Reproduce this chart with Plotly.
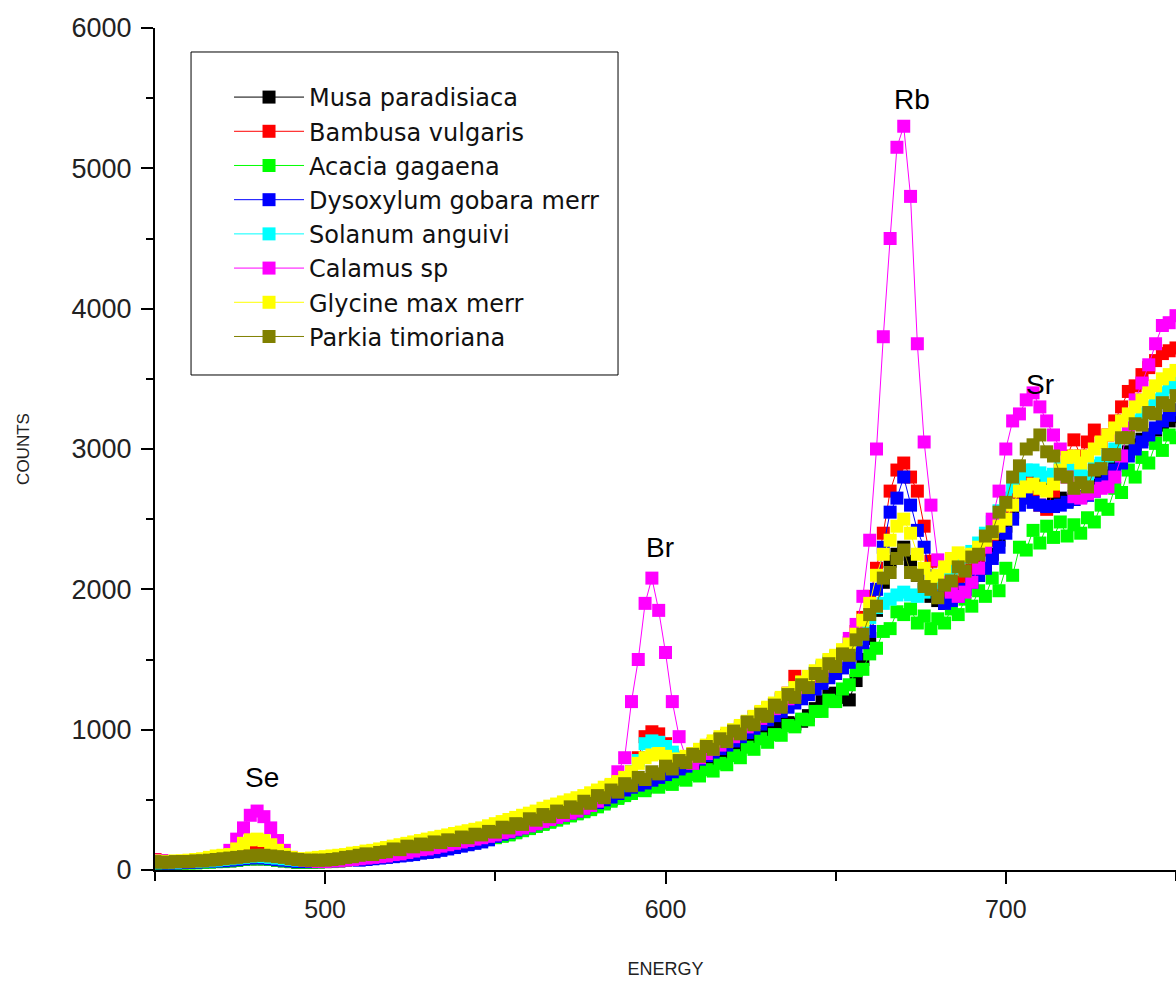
import plotly.graph_objects as go

# Energy channels (x values)
ENERGY = list(range(450, 751, 2))

MUSA = [55, 50, 50, 50, 50, 55, 55, 55, 60, 60,
        65, 65, 70, 75, 80, 80, 80, 75, 70, 65,
        60, 55, 55, 55, 60, 60, 65, 65, 70, 75,
        75, 80, 85, 90, 95, 100, 110, 115, 125, 130,
        140, 145, 155, 165, 175, 185, 195, 205, 215, 225,
        235, 245, 255, 270, 285, 300, 315, 330, 345, 360,
        375, 390, 405, 420, 440, 460, 480, 500, 520, 540,
        555, 570, 585, 600, 615, 630, 645, 660, 680, 700,
        720, 745, 770, 795, 820, 850, 880, 910, 940, 970,
        1000, 1020, 1040, 1050, 1040, 1060, 1100, 1150, 1200, 1250,
        1260, 1230, 1212, 1350, 1500, 1650, 1850, 2050, 2200, 2250,
        2300, 2200, 2100, 2000, 1950, 1920, 1900, 1930, 1970, 2000,
        2050, 2100, 2150, 2250, 2350, 2450, 2550, 2650, 2750, 2800,
        2780, 2720, 2680, 2650, 2630, 2640, 2660, 2700, 2740, 2780,
        2830, 2880, 2930, 2980, 3030, 3070, 3100, 3135, 3170, 3200,
        3230]

BAMBUSA = [75, 65, 60, 60, 60, 65, 65, 70, 75, 80,
           85, 90, 100, 115, 125, 130, 125, 115, 100, 90,
           80, 75, 75, 75, 80, 85, 90, 95, 100, 105,
           110, 115, 120, 130, 140, 150, 160, 170, 180, 190,
           200, 210, 220, 230, 240, 250, 260, 270, 280, 290,
           300, 315, 330, 345, 360, 375, 390, 405, 420, 435,
           450, 465, 480, 500, 520, 540, 560, 580, 600, 630,
           700, 800, 950, 985, 970, 900, 820, 780, 790, 810,
           840, 870, 900, 930, 960, 990, 1020, 1050, 1090, 1120,
           1150, 1180, 1220, 1260, 1380, 1330, 1360, 1400, 1440, 1480,
           1520, 1560, 1620, 1700, 1800, 1950, 2150, 2400, 2700, 2850,
           2900, 2800, 2700, 2450, 2200, 2000, 1980, 2000, 2050, 2100,
           2150, 2200, 2280, 2350, 2450, 2550, 2650, 2750, 2800, 2700,
           2600, 2570, 2700, 2850, 2950, 3065, 2950, 3050, 3135, 3050,
           3100, 3200, 3300, 3410, 3450, 3530, 3580, 3630, 3680, 3700,
           3720]

ACACIA = [50, 45, 45, 45, 50, 50, 50, 55, 55, 60,
          60, 65, 70, 75, 80, 80, 80, 75, 70, 65,
          60, 55, 55, 55, 55, 60, 60, 65, 70, 75,
          75, 80, 85, 90, 95, 100, 105, 115, 120, 130,
          135, 145, 150, 160, 170, 180, 190, 200, 210, 220,
          230, 240, 250, 265, 280, 295, 310, 325, 340, 355,
          370, 385, 400, 415, 430, 450, 470, 490, 510, 530,
          545, 570, 565, 600, 590, 620, 610, 650, 640, 680,
          670, 715, 705, 760, 750, 815, 800, 875, 860, 935,
          910, 965, 960, 1030, 1020, 1075, 1070, 1130, 1130, 1210,
          1200, 1290, 1320, 1420, 1430, 1540, 1580, 1700, 1720, 1840,
          1820, 1860, 1760, 1810, 1720, 1790, 1760, 1860, 1820, 1930,
          1880, 1990, 1950, 2080, 1990, 2150, 2100, 2300, 2280, 2420,
          2330, 2450, 2370, 2480, 2380, 2460, 2400, 2510, 2480, 2600,
          2570, 2720, 2690, 2850, 2800, 2940, 2900, 3040, 2990, 3100,
          3080]

DYSOXYLUM = [55, 50, 50, 50, 55, 55, 55, 60, 60, 65,
             65, 70, 75, 80, 85, 90, 85, 80, 75, 70,
             65, 60, 60, 60, 60, 65, 65, 70, 75, 80,
             70, 75, 80, 85, 90, 95, 100, 105, 110, 120,
             125, 130, 140, 150, 160, 170, 180, 190, 200, 215,
             240, 255, 270, 285, 300, 315, 330, 345, 360, 375,
             390, 405, 420, 440, 460, 480, 500, 520, 545, 570,
             590, 605, 620, 640, 660, 680, 700, 720, 740, 765,
             790, 815, 840, 865, 890, 920, 950, 980, 1010, 1040,
             1070, 1100, 1130, 1160, 1190, 1220, 1250, 1290, 1330, 1370,
             1400, 1440, 1480, 1540, 1620, 1700, 2000, 2300, 2550, 2650,
             2800, 2600, 2420, 2300, 2100, 1950, 1900, 1920, 1950, 2000,
             2050, 2100, 2150, 2220, 2300, 2400, 2500, 2600, 2650, 2620,
             2600, 2590, 2590, 2600, 2620, 2640, 2660, 2670, 2700, 2750,
             2800, 2850, 2900, 2950, 3000, 3050, 3100, 3150, 3200, 3240,
             3280]

SOLANUM = [60, 55, 55, 55, 60, 60, 60, 65, 65, 70,
           75, 80, 85, 90, 95, 100, 95, 90, 85, 80,
           75, 70, 70, 70, 75, 80, 80, 85, 90, 95,
           100, 105, 110, 120, 130, 140, 150, 160, 170, 180,
           190, 200, 210, 220, 230, 240, 250, 260, 270, 280,
           295, 310, 325, 340, 355, 370, 385, 400, 415, 430,
           445, 460, 475, 495, 515, 535, 555, 575, 600, 640,
           700, 780, 900, 920, 910, 880, 840, 800, 790, 810,
           835, 860, 890, 920, 950, 980, 1010, 1040, 1075, 1110,
           1140, 1170, 1210, 1250, 1290, 1330, 1370, 1410, 1450, 1490,
           1520, 1560, 1600, 1650, 1720, 1800, 1870, 1900, 1930, 1960,
           1980, 1960, 1950, 1980, 2000, 2050, 2100, 2150, 2200, 2230,
           2270, 2330, 2400, 2480, 2560, 2650, 2730, 2800, 2850, 2850,
           2830, 2800, 2820, 2860, 2880, 2850, 2830, 2800, 2880, 2900,
           2950, 3000, 3080, 3120, 3200, 3250, 3300, 3350, 3400, 3440,
           3470]

CALAMUS = [70, 65, 60, 60, 60, 65, 70, 75, 80, 85,
           100, 140, 220, 300, 390, 420, 380, 300, 210, 140,
           90, 75, 70, 65, 60, 60, 65, 65, 70, 75,
           80, 85, 90, 95, 100, 110, 115, 125, 135, 145,
           150, 160, 170, 180, 190, 200, 210, 220, 230, 240,
           250, 265, 275, 290, 300, 315, 330, 345, 360, 375,
           390, 405, 420, 440, 460, 490, 530, 600, 700, 800,
           1200, 1500, 1900, 2080, 1850, 1550, 1200, 950, 800, 760,
           800, 830, 860, 890, 920, 950, 990, 1020, 1050, 1080,
           1110, 1150, 1180, 1220, 1260, 1300, 1340, 1380, 1420, 1460,
           1500, 1560, 1650, 1750, 1950, 2350, 3000, 3800, 4500, 5150,
           5300, 4800, 3750, 3050, 2600, 2210, 2050, 1980, 1950, 1980,
           2050, 2150, 2300, 2500, 2700, 3000, 3200, 3250, 3350, 3400,
           3300, 3200, 3100, 3000, 2800, 2660, 2650, 2680, 2700, 2720,
           2730, 2800, 2950, 3150, 3350, 3470, 3600, 3750, 3880, 3900,
           3950]

GLYCINE = [65, 60, 60, 65, 65, 70, 75, 80, 90, 100,
           105, 110, 150, 190, 215, 220, 210, 180, 140, 110,
           90, 80, 80, 85, 90, 95, 100, 105, 110, 120,
           125, 135, 140, 150, 160, 170, 180, 190, 200, 210,
           220, 230, 240, 250, 260, 270, 280, 290, 300, 315,
           330, 345, 360, 375, 390, 405, 420, 440, 455, 470,
           485, 500, 515, 530, 550, 570, 590, 610, 630, 660,
           700, 760, 800, 820, 830, 810, 790, 790, 810, 830,
           860, 890, 920, 950, 975, 1000, 1030, 1060, 1095, 1130,
           1160, 1190, 1230, 1260, 1300, 1340, 1380, 1420, 1460, 1500,
           1530, 1570, 1610, 1680, 1780, 1900, 2100, 2250, 2350, 2450,
           2500, 2400, 2250, 2150, 2080, 2100, 2160, 2220, 2260, 2240,
           2250, 2300, 2350, 2400, 2450, 2500, 2600, 2700, 2730, 2750,
           2720, 2700, 2750, 2850, 2940, 2950, 2900, 2950, 3000, 3050,
           3100, 3150, 3200, 3250, 3300, 3350, 3400, 3450, 3500, 3530,
           3560]

PARKIA = [60, 55, 55, 60, 60, 60, 65, 65, 70, 75,
          80, 85, 90, 95, 100, 105, 105, 100, 95, 90,
          80, 75, 70, 70, 70, 70, 75, 80, 90, 95,
          105, 115, 110, 125, 130, 150, 145, 170, 165, 185,
          180, 200, 195, 215, 210, 235, 230, 255, 250, 275,
          270, 305, 300, 330, 325, 365, 355, 395, 380, 420,
          410, 450, 440, 490, 475, 530, 515, 570, 555, 615,
          600, 660, 645, 700, 685, 740, 720, 780, 765, 825,
          810, 880, 860, 935, 915, 990, 970, 1055, 1035, 1110,
          1095, 1175, 1160, 1250, 1230, 1320, 1300, 1400, 1380, 1470,
          1450, 1540, 1530, 1640, 1680, 1820, 1880, 2080, 2120, 2220,
          2280, 2120, 2100, 2020, 2000, 1940, 2030, 2060, 2160, 2130,
          2230, 2250, 2380, 2410, 2550, 2620, 2800, 2880, 3000, 3030,
          3100, 2980, 2950, 2820, 2800, 2720, 2760, 2730, 2850, 2860,
          2960, 2960, 3080, 3080, 3180, 3170, 3260, 3250, 3330, 3310,
          3380]

SERIES_NAMES = ["Musa paradisiaca", "Bambusa vulgaris", "Acacia gagaena",
                "Dysoxylum gobara merr", "Solanum anguivi", "Calamus sp",
                "Glycine max merr", "Parkia timoriana"]
SERIES_VALUES = [MUSA, BAMBUSA, ACACIA, DYSOXYLUM, SOLANUM, CALAMUS, GLYCINE, PARKIA]
SERIES_COLORS = ["#000000", "#FF0000", "#00FF00", "#0000FF", "#00FFFF",
                 "#FF00FF", "#FFFF00", "#808000"]

# Peak labels (element, energy, counts)
PEAK_LABELS = ["Se", "Br", "Rb", "Sr"]
PEAK_ENERGY = [481.5, 598.5, 672.5, 710]
PEAK_COUNTS = [660, 2300, 5490, 3460]

X_TICKS = [500, 600, 700]
Y_TICKS = [0, 1000, 2000, 3000, 4000, 5000, 6000]

FONT = "Liberation Sans, Arial, sans-serif"
LEGEND_FONT = "DejaVu Sans, Liberation Sans, sans-serif"

fig = go.Figure()
for name, vals, col in zip(SERIES_NAMES, SERIES_VALUES, SERIES_COLORS):
    fig.add_trace(go.Scatter(
        x=ENERGY, y=vals, name=name, mode="lines+markers",
        line=dict(color=col, width=1),
        marker=dict(symbol="square", size=13, color=col, line=dict(width=0)),
    ))

for lab, ex, cy in zip(PEAK_LABELS, PEAK_ENERGY, PEAK_COUNTS):
    fig.add_annotation(x=ex, y=cy, text=lab, showarrow=False,
                       font=dict(family=FONT, size=28, color="#000000"))

# legend frame
fig.add_shape(type="rect", xref="paper", yref="paper",
              x0=0.0353, x1=0.4535, y0=0.5879, y1=0.9715,
              line=dict(color="#000000", width=1), fillcolor="white", layer="below")

fig.update_layout(
    width=1176, height=981,
    margin=dict(l=155, r=0, t=28, b=111),
    plot_bgcolor="white", paper_bgcolor="white",
    font=dict(family=FONT, color="#222222"),
    legend=dict(
        x=0.0725, y=0.9442, xanchor="left", yanchor="top",
        bgcolor="rgba(0,0,0,0)", borderwidth=0,
        font=dict(family=LEGEND_FONT, size=24, color="#111111"),
        itemwidth=70,
    ),
    xaxis=dict(
        range=[450, 750], tickvals=X_TICKS, showgrid=False, zeroline=False,
        showline=True, linecolor="#000000", linewidth=2,
        ticks="outside", ticklen=12, tickwidth=2, tickcolor="#000000",
        tickfont=dict(size=25, color="#222222"), ticklabelstandoff=4,
        minor=dict(dtick=50, tick0=450, ticks="outside", ticklen=9, tickwidth=2, tickcolor="#000000"),
        title=dict(text="ENERGY", font=dict(size=18, color="#222222"), standoff=40),
    ),
    yaxis=dict(
        range=[0, 6000], tickvals=Y_TICKS, showgrid=False, zeroline=False,
        showline=True, linecolor="#000000", linewidth=2,
        ticks="outside", ticklen=12, tickwidth=2, tickcolor="#000000",
        tickfont=dict(size=27, color="#222222"), ticklabelstandoff=4,
        minor=dict(dtick=500, tick0=0, ticks="outside", ticklen=7, tickwidth=2, tickcolor="#000000"),
        title=dict(text="COUNTS", font=dict(size=17, color="#222222"), standoff=38),
    ),
)

fig.write_html("out.html")
